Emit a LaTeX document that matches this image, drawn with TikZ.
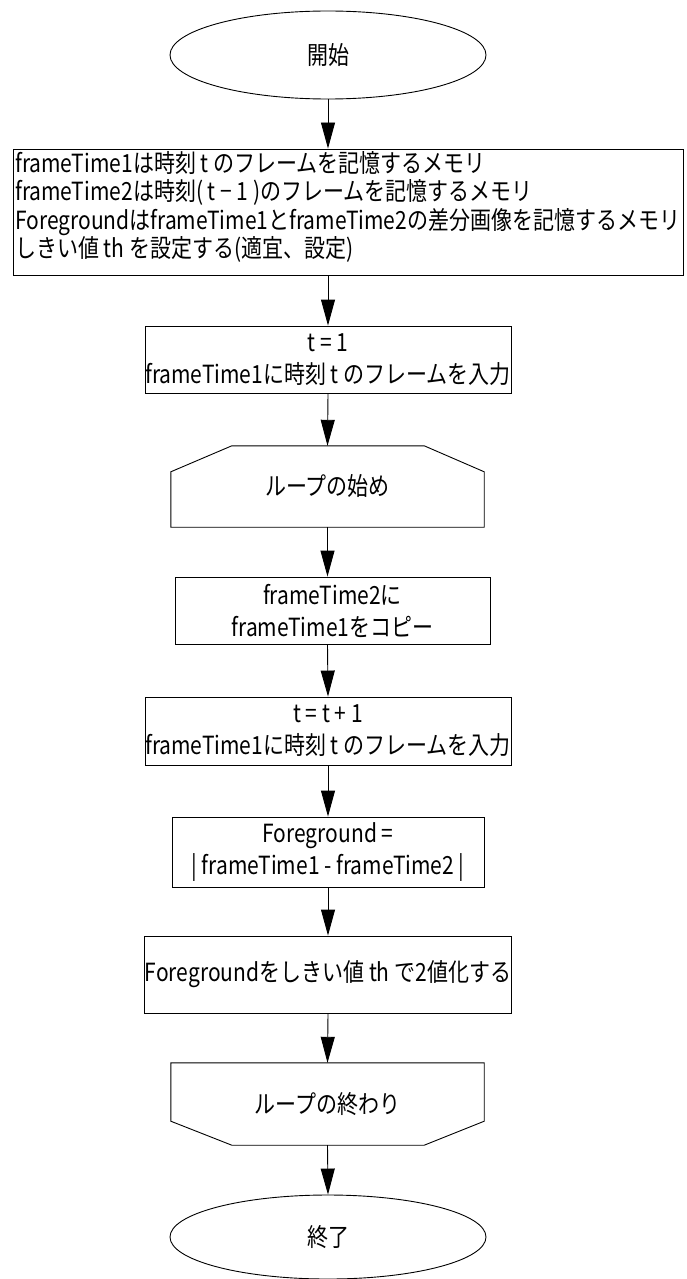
\documentclass[tikz,border=0pt]{standalone}
\usepackage{fontspec}
\usetikzlibrary{shapes.geometric,arrows.meta}
\newfontfamily\jpfont[FakeStretch=0.84]{Noto Sans CJK JP}
\begin{document}
\begin{tikzpicture}[x=1pt,y=-1pt,
  every node/.style={font=\jpfont\fontsize{25}{32}\selectfont, inner sep=0pt},
  term/.style={draw, ellipse, line width=0.9pt, minimum width=316pt, minimum height=88pt},
  proc/.style={draw, rectangle, line width=0.9pt, align=center},
  flow/.style={line width=0.9pt, -{Triangle[length=26pt,width=14pt]}}
]
\useasboundingbox (0,0) rectangle (687,1279);
\fill[white] (0,0) rectangle (687,1279);

% start
\node[term] (start) at (328,55) {開始};

% box 1
\node[proc, minimum width=670pt, minimum height=126pt] (b1) at (348,212) {};
\node[align=left, anchor=west, font=\jpfont\fontsize{25}{28.5}\selectfont] (b1t) at (15,207) {frameTime1は時刻 t のフレームを記憶するメモリ\\frameTime2は時刻( t − 1 )のフレームを記憶するメモリ\\ForegroundはframeTime1とframeTime2の差分画像を記憶するメモリ\\しきい値 th を設定する(適宜、設定)};

% box 2
\node[proc, minimum width=366pt, minimum height=67pt] (b2) at (328,359.5) {t = 1\\frameTime1に時刻 t のフレームを入力};

% loop start
\node[minimum width=313pt, minimum height=81pt] (ls) at (327.5,486.5) {ループの始め};
\draw[line width=0.9pt] (ls.south west) -- ([yshift=-26pt]ls.north west) -- ([xshift=61pt]ls.north west) -- ([xshift=-60pt]ls.north east) -- ([yshift=-26pt]ls.north east) -- (ls.south east) -- cycle;

% box 3
\node[proc, minimum width=315pt, minimum height=67pt] (b3) at (332.5,610.5) {frameTime2に\\frameTime1をコピー};

% box 4
\node[proc, minimum width=366pt, minimum height=68pt] (b4) at (328,731) {t = t + 1\\frameTime1に時刻 t のフレームを入力};

% box 5
\node[proc, minimum width=312pt, minimum height=70pt] (b5) at (328,852) {Foreground =\\| frameTime1 - frameTime2 |};

% box 6
\node[proc, minimum width=366pt, minimum height=77pt] (b6) at (328,974.5) {Foregroundをしきい値 th で2値化する};

% loop end
\node[minimum width=313pt, minimum height=82pt] (le) at (327.5,1104) {ループの終わり};
\draw[line width=0.9pt] (le.north west) -- ([yshift=24pt]le.south west) -- ([xshift=61pt]le.south west) -- ([xshift=-60pt]le.south east) -- ([yshift=24pt]le.south east) -- (le.north east) -- cycle;

% end
\node[term, minimum height=84pt] (end) at (328,1237) {終了};

% connectors
\draw[flow] (start.south) -- (start.south |- b1.north);
\draw[flow] (start.south |- b1.south) -- (b2.north);
\draw[flow] (b2.south) -- (ls.north);
\draw[flow] (ls.south) -- (ls.south |- b3.north);
\draw[flow] (ls.south |- b3.south) -- (b4.north);
\draw[flow] (b4.south) -- (b5.north);
\draw[flow] (b5.south) -- (b6.north);
\draw[flow] (b6.south) -- (le.north);
\draw[flow] (le.south) -- (end.north);
\end{tikzpicture}
\end{document}
